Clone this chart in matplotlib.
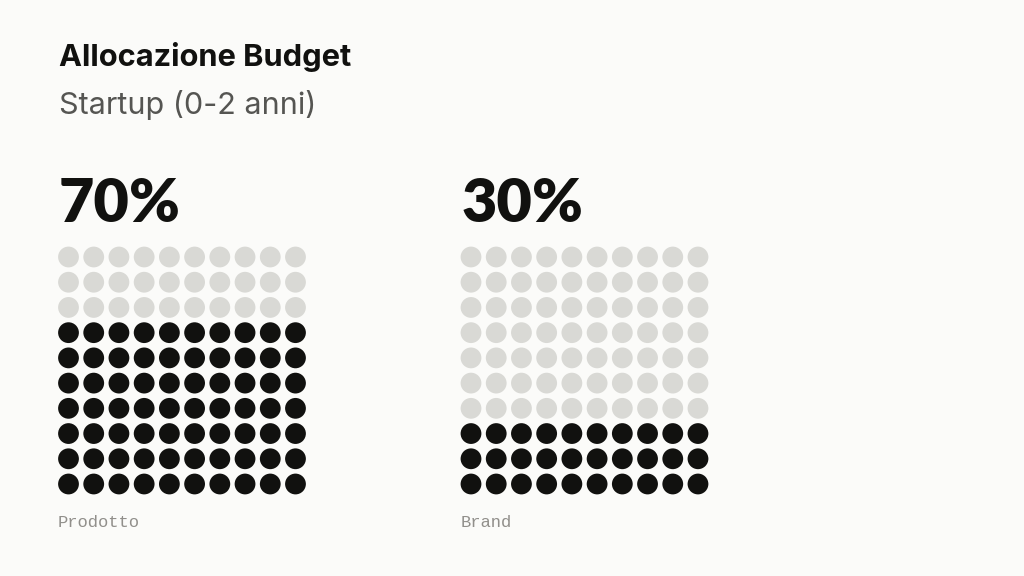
import matplotlib
matplotlib.use("Agg")
import matplotlib.pyplot as plt

title = "Allocazione Budget"
subtitle = "Startup (0-2 anni)"
categories = ["Prodotto", "Brand"]
shares = [70, 30]
rows = 10
cols = 10
BG = "#FBFBF9"
DARK = "#11110F"
LIGHT = "#D9D9D5"
W, H = 1024, 576
fig = plt.figure(figsize=(W / 100, H / 100), dpi=100, facecolor=BG)
SANS = ["Inter", "Lato", "DejaVu Sans"]
NUM = ["Lato", "Inter", "DejaVu Sans"]

fig.text(59 / W, 1 - 66.5 / H, title, family=SANS, fontsize=22.2, fontweight="bold", color=DARK, va="baseline")
fig.text(59 / W, 1 - 114.5 / H, subtitle, family=SANS, fontsize=22, fontweight="normal", color="#555552", va="baseline")

lefts = [68.5, 471.0]
pitch = 25.22
top, bottom = 257.0, 484.0
for left, cat, share in zip(lefts, categories, shares):
    ax = fig.add_axes([left / W, 1 - bottom / H, (cols - 1) * pitch / W, (bottom - top) / H])
    ax.set_xlim(0, cols - 1)
    ax.set_ylim(0, rows - 1)
    ax.axis("off")
    xs, ys, colors = [], [], []
    for r in range(rows):
        for c in range(cols):
            xs.append(c)
            ys.append(r)
            colors.append(DARK if r * cols + c < share else LIGHT)
    ax.scatter(xs, ys, s=224, c=colors, linewidths=0, clip_on=False)
    fig.text((left - 9.5) / W, 1 - 222 / H, f"{share}%", family=NUM, fontsize=44, fontweight=800, color=DARK, va="baseline")
    fig.text((left - 10.5) / W, 1 - 527 / H, cat, family=["Liberation Mono", "DejaVu Sans Mono"], fontsize=12.3, color="#918F8B", va="baseline")

fig.savefig("out.png", dpi=100, facecolor=BG)
